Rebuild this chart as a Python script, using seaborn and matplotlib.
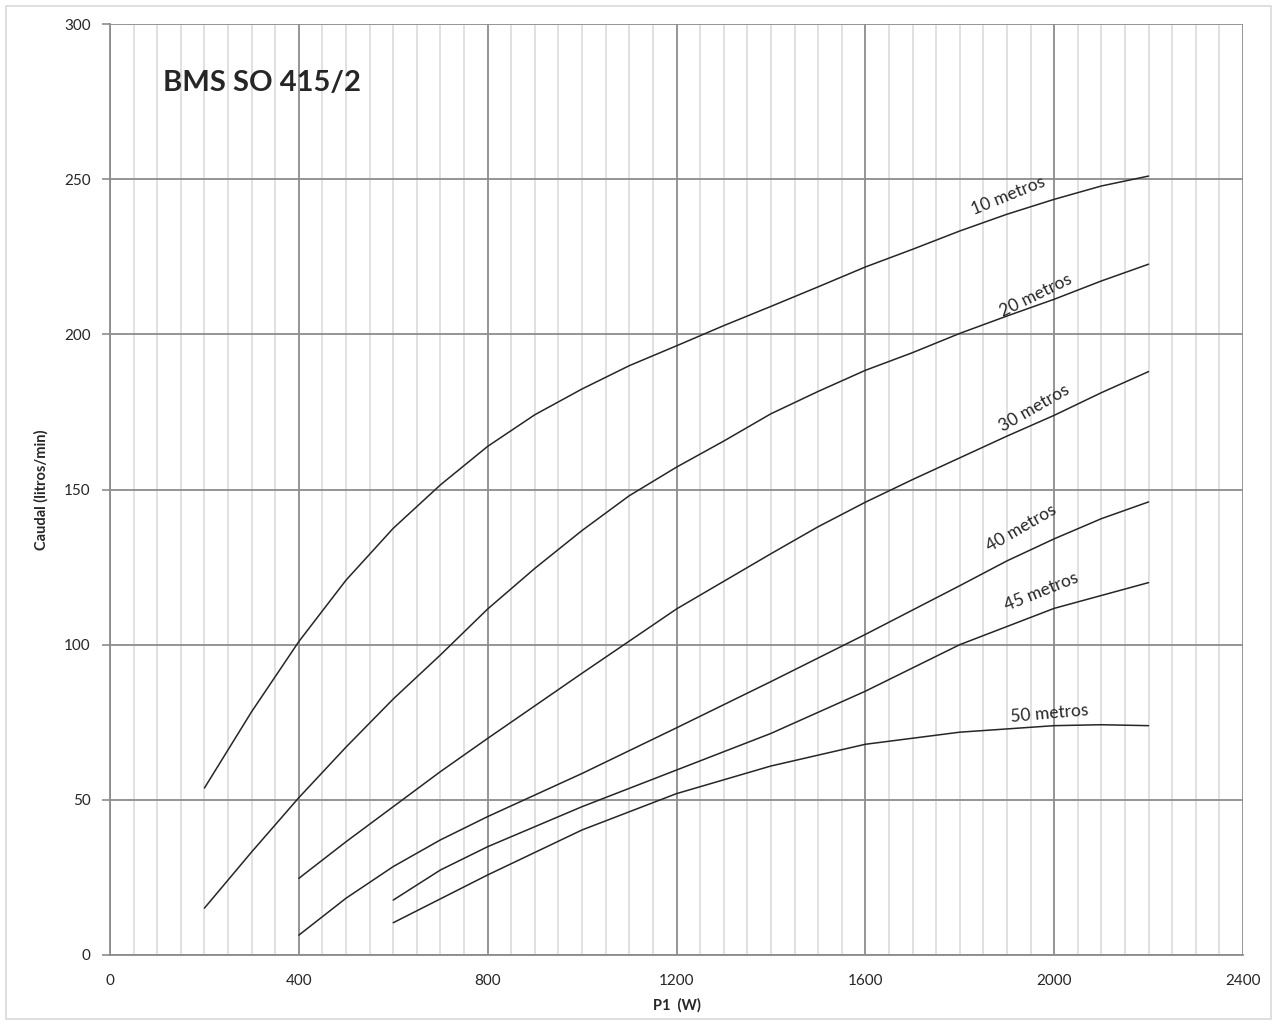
import numpy as np
import pandas as pd
import matplotlib
matplotlib.use("Agg")
import matplotlib.pyplot as plt
from matplotlib.patches import Rectangle
from matplotlib.ticker import MultipleLocator
import seaborn as sns

# ---- data ----
x_10 = [200, 300, 400, 500, 600, 700, 800, 900, 1000, 1100, 1200, 1300, 1400, 1500, 1600,
        1700, 1800, 1900, 2000, 2100, 2200]
q_10 = [53.8, 78.4, 101.0, 120.8, 137.5, 151.5, 163.9, 174.1, 182.4, 189.9, 196.3, 202.8, 209.0,
        215.3, 221.7, 227.4, 233.3, 238.7, 243.5, 247.8, 251.0]

x_20 = [200, 300, 400, 500, 600, 700, 800, 900, 1000, 1100, 1200, 1300, 1400, 1500, 1600,
        1700, 1800, 1900, 2000, 2100, 2200]
q_20 = [15.1, 33.2, 50.7, 67.0, 82.5, 96.7, 111.5, 124.6, 136.8, 148.0, 157.2, 165.6, 174.4,
        181.6, 188.4, 194.1, 200.3, 205.9, 211.3, 217.2, 222.6]

x_30 = [400, 500, 600, 700, 800, 1000, 1200, 1400, 1500, 1600, 1700, 1800, 1900, 2000, 2100, 2200]
q_30 = [24.7, 36.5, 47.8, 59.1, 69.8, 90.8, 111.5, 129.3, 138.0, 145.9, 153.2, 160.2, 167.2,
        173.9, 181.2, 188.0]

x_40 = [400, 500, 600, 700, 800, 1000, 1200, 1400, 1600, 1800, 1900, 2000, 2100, 2200]
q_40 = [6.4, 18.3, 28.5, 37.1, 44.6, 58.5, 73.2, 88.1, 103.3, 119.0, 127.0, 134.1, 140.6, 146.0]

x_45 = [600, 700, 800, 1000, 1200, 1400, 1600, 1800, 2000, 2200]
q_45 = [17.7, 27.4, 34.9, 47.8, 59.6, 71.4, 85.0, 100.0, 111.7, 120.0]

x_50 = [600, 800, 1000, 1200, 1400, 1600, 1800, 2000, 2100, 2200]
q_50 = [10.4, 25.8, 40.3, 52.0, 60.9, 67.9, 71.8, 73.9, 74.2, 73.9]

series_names = ["10 metros", "20 metros", "30 metros", "40 metros", "45 metros", "50 metros"]
# label anchor (x, y) and rotation angles
label_x = [1902, 1961, 1957, 1930, 1973, 1991]
label_y = [244.6, 212.4, 176.3, 137.6, 117.0, 77.7]
label_rot = [22, 26, 30, 30, 22, 5]

x_ticks = [0, 400, 800, 1200, 1600, 2000, 2400]
y_ticks = [0, 50, 100, 150, 200, 250, 300]
title_text = "BMS SO 415/2"
x_label = "P1  (W)"
y_label = "Caudal (litros/min)"

# ---- build long table ----
xs = [x_10, x_20, x_30, x_40, x_45, x_50]
qs = [q_10, q_20, q_30, q_40, q_45, q_50]
df = pd.concat(
    [pd.DataFrame({"P1": x, "Caudal": q, "Altura": n}) for x, q, n in zip(xs, qs, series_names)],
    ignore_index=True,
)

sns.set_theme(style="white")
plt.rcParams["font.family"] = ["Lato", "DejaVu Sans"]

fig = plt.figure(figsize=(12.77, 10.24), dpi=100)
ax = fig.add_axes([110 / 1277, 1 - 955 / 1024, (1243 - 110) / 1277, (955 - 24) / 1024])

sns.lineplot(
    data=df, x="P1", y="Caudal", hue="Altura", units="Altura", estimator=None,
    palette=["#262626"] * 6, linewidth=1.1, legend=False, ax=ax, sort=False,
)
for ln in ax.get_lines():
    ln.set_solid_joinstyle("round")

ax.set_xlim(0, 2400)
ax.set_ylim(0, 300)
ax.set_xticks(x_ticks)
ax.set_yticks(y_ticks)
ax.xaxis.set_minor_locator(MultipleLocator(50))
ax.grid(which="minor", axis="x", color="#dedede", linewidth=1.3, zorder=0)
ax.grid(which="major", axis="both", color="#8c8c8c", linewidth=1.3, zorder=0)
ax.set_axisbelow(True)

for s in ["top", "right"]:
    ax.spines[s].set_visible(False)
for s in ["left", "bottom"]:
    ax.spines[s].set_color("#8c8c8c")
    ax.spines[s].set_linewidth(1.3)

ax.tick_params(axis="y", which="major", left=True, length=6, width=1.2, color="#8c8c8c",
               labelsize=11, labelcolor="#262626", pad=8)
ax.tick_params(axis="x", which="both", bottom=False, labelsize=11, labelcolor="#262626", pad=8)

ax.set_xlabel(x_label, fontsize=10.5, fontweight="bold", color="#262626", labelpad=7)
ax.set_ylabel(y_label, fontsize=10.5, fontweight="bold", color="#262626", labelpad=11)

ax.text(112, 281, title_text, fontsize=21, fontweight="bold", color="#262626",
        ha="left", va="center")

for n, lx, ly, r in zip(series_names, label_x, label_y, label_rot):
    ax.text(lx, ly, n, fontsize=12.5, color="#262626", rotation=r,
            rotation_mode="anchor", ha="center", va="center")

fig.patches.append(Rectangle((6 / 1277, 5 / 1024), 1265 / 1277, 1013 / 1024,
                             transform=fig.transFigure, fill=False,
                             edgecolor="#d9d9d9", linewidth=1.2))

fig.savefig("out.png", dpi=100)
